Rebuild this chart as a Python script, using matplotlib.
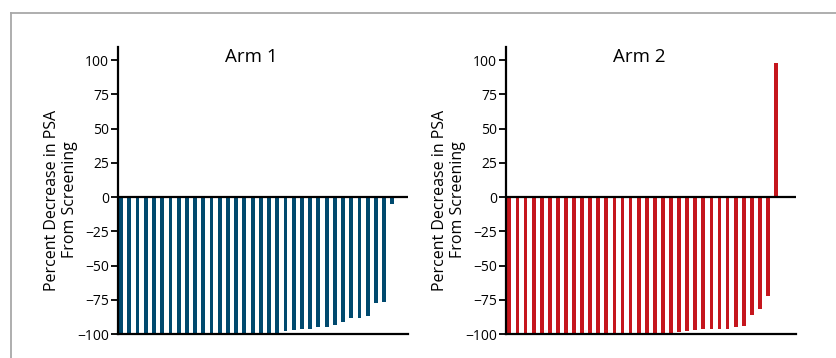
import matplotlib
matplotlib.use("Agg")
import matplotlib.pyplot as plt
from matplotlib.lines import Line2D

plt.rcParams['font.family'] = ['Open Sans', 'DejaVu Sans']

titles = ["Arm 1", "Arm 2"]
colors = ["#00496e", "#c5161d"]
y_label = "Percent Decrease in PSA\nFrom Screening"
y_ticks = [-100, -75, -50, -25, 0, 25, 50, 75, 100]

arm1 = [-100, -100, -100, -100, -100, -100, -100, -100, -100, -100,
        -100, -100, -100, -100, -100, -100, -100, -100, -100, -100,
        -98.1, -97.4, -96.6, -96.6, -95.1, -95.1, -93.7, -91.5, -88.6, -88.6,
        -87.1, -77.7, -77.0, -4.9]
arm2 = [-100, -100, -100, -100, -100, -100, -100, -100, -100, -100,
        -100, -100, -100, -100, -100, -100, -100, -100, -100, -100,
        -100, -98.8, -98.1, -97.4, -96.6, -96.6, -96.6, -96.6, -95.1, -93.9,
        -85.9, -81.5, -72.0, 97.8]

W, H = 837, 358
fig = plt.figure(figsize=(W / 100, H / 100), dpi=100)

# gray frame (top and left)
fig.add_artist(Line2D([11 / W, 1.0], [1 - 13 / H, 1 - 13 / H], transform=fig.transFigure,
                      color="#a8a8a8", lw=1.3))
fig.add_artist(Line2D([11 / W, 11 / W], [0, 1 - 13 / H], transform=fig.transFigure,
                      color="#a8a8a8", lw=1.3))

panels = [
    (arm1, 118, (-0.38, 34.9)),
    (arm2, 506, (-0.42, 35.47)),
]

ax_bottom = (H - 334) / H
ax_height = (334 - 47) / H
ax_width = 290 / W

for i, (vals, x0, xl) in enumerate(panels):
    ax = fig.add_axes([x0 / W, ax_bottom, ax_width, ax_height])
    xs = list(range(len(vals)))
    ax.bar(xs, vals, width=0.47, color=colors[i], zorder=2)
    ax.axhline(0, color="black", lw=1.6, zorder=3)
    ax.set_xlim(*xl)
    ax.set_ylim(-100, 109.5)
    ax.set_yticks(y_ticks)
    ax.set_yticklabels([f"{t}".replace("-", "\u2212") for t in y_ticks], fontsize=10)
    ax.set_xticks([])
    for s in ["top", "right"]:
        ax.spines[s].set_visible(False)
    ax.spines["left"].set_linewidth(1.6)
    ax.spines["bottom"].set_linewidth(1.6)
    ax.tick_params(axis="y", length=5, width=1.3, pad=1.5, direction="out")
    ax.text(0.459, 0.965, titles[i], transform=ax.transAxes, ha="center", va="center",
            fontsize=13.5)
    ax.text(-0.197, 0.467, y_label, transform=ax.transAxes, ha="center", va="center",
            rotation=90, fontsize=11.5, multialignment="center", linespacing=1.15)

fig.savefig("out.png", dpi=100)
